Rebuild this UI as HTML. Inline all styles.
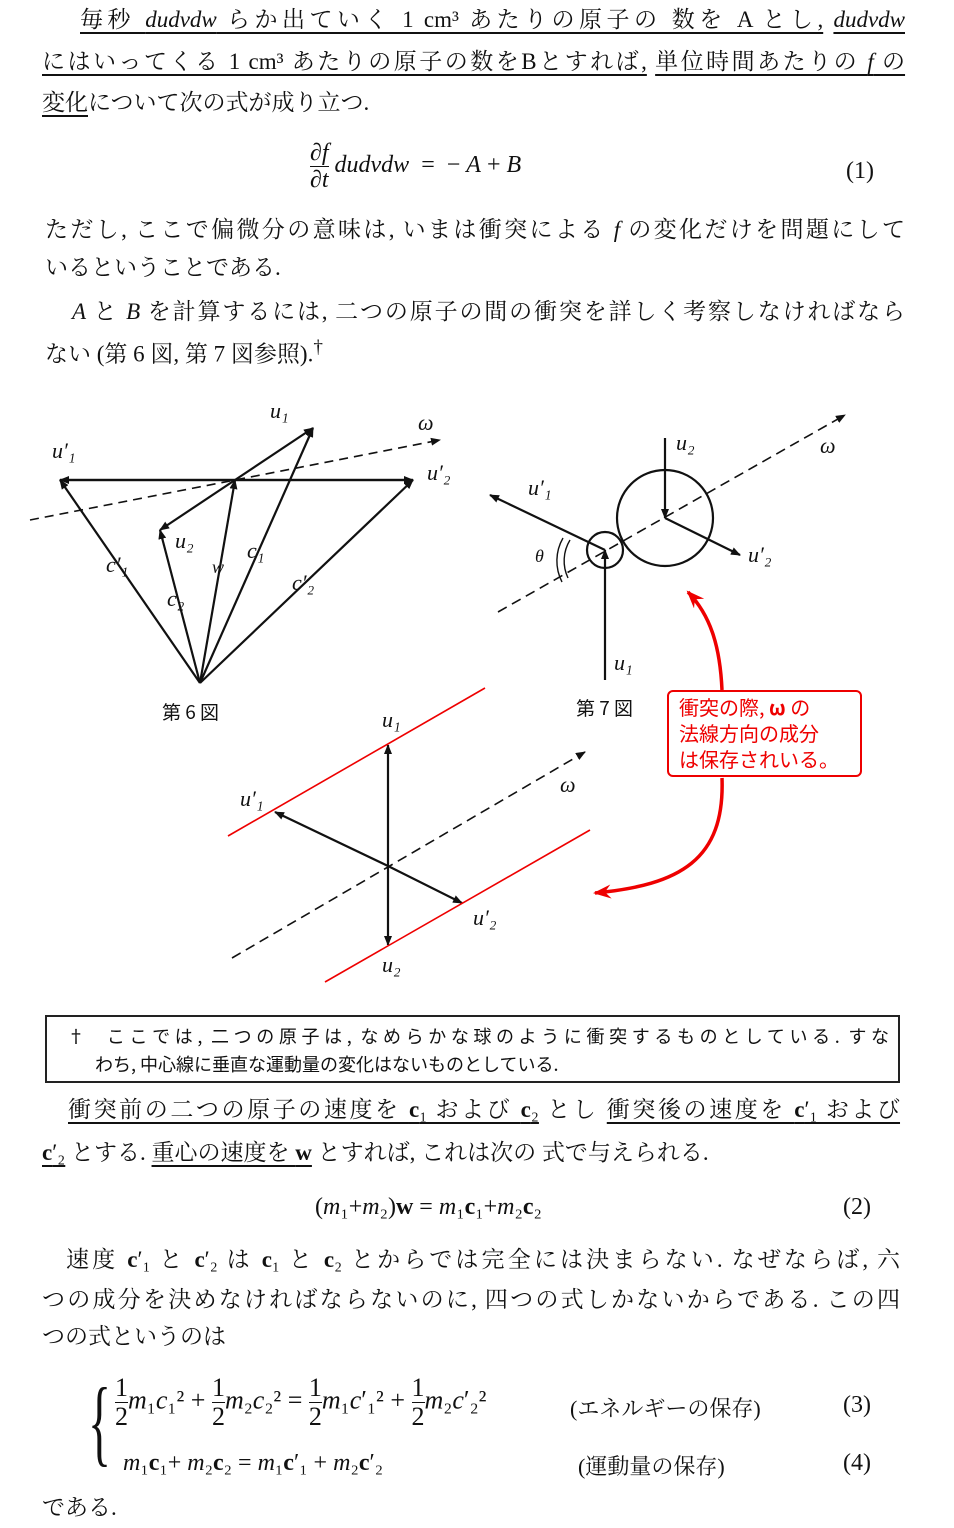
<!DOCTYPE html>
<html><head><meta charset="utf-8">
<style>
html,body{margin:0;padding:0;background:#fff;}
body{width:954px;height:1528px;position:relative;overflow:hidden;font-family:"Liberation Serif","Noto Serif CJK SC","Noto Sans CJK JP",serif;color:#111;}
.l{position:absolute;font-size:23px;white-space:nowrap;text-align:justify;text-align-last:justify;line-height:30px;}
.i{font-style:italic;}
.u{text-decoration:underline;text-underline-offset:5px;}
.eq{position:absolute;font-size:24px;white-space:nowrap;}
svg{position:absolute;left:0;top:0;}
.box{position:absolute;left:45px;top:1015px;width:851px;height:64px;border:2px solid #222;font-size:18px;font-family:"Noto Sans CJK JP",sans-serif;}
.fr{display:inline-block;text-align:center;vertical-align:middle;line-height:28px;font-size:26px;}
</style></head><body>

<div class="l" style="left:80px;top:5px;width:825px"><span class="u">毎秒 <span class="i">dudvdw</span> らか出ていく 1 cm³ あたりの原子の 数を A とし,</span> <span class="i u">dudvdw</span></div>
<div class="l" style="left:42px;top:47px;width:863px"><span class="u">にはいってくる 1 cm³ あたりの原子の数をBとすれば,</span> <span class="u">単位時間あたりの <i>f</i> の</span></div>
<div class="l" style="left:42px;top:88px;"><span class="u">変化</span>について次の式が成り立つ.</div>

<div class="eq" style="left:310px;top:140px;"><span style="display:inline-block;text-align:center;vertical-align:middle;line-height:26px"><i>∂f</i><br><span style="border-top:1.5px solid #111;display:block"><i>∂t</i></span></span> <i>dudvdw</i> &nbsp;= &nbsp;− <i>A</i> + <i>B</i></div>
<div class="eq" style="left:846px;top:158px;">(1)</div>

<div class="l" style="left:45px;top:215px;width:860px">ただし, ここで偏微分の意味は, いまは衝突による <i>f</i> の変化だけを問題にして</div>
<div class="l" style="left:45px;top:253px;">いるということである.</div>
<div class="l" style="left:72px;top:297px;width:833px"><i>A</i> と <i>B</i> を計算するには, 二つの原子の間の衝突を詳しく考察しなければなら</div>
<div class="l" style="left:45px;top:333px;">ない (第 6 図, 第 7 図参照).<sup>†</sup></div>

<svg width="954" height="1528" viewBox="0 0 954 1528">
<defs>
<marker id="a" markerWidth="10" markerHeight="8" refX="9" refY="4" orient="auto" markerUnits="userSpaceOnUse"><path d="M0,0 L10,4 L0,8 z" fill="#111"/></marker>
<marker id="ar" markerWidth="20" markerHeight="14" refX="16" refY="7" orient="auto" markerUnits="userSpaceOnUse"><path d="M0,0 L18,7 L0,14 L6,7 z" fill="#e00"/></marker>
</defs>
<g stroke="#111" stroke-width="2.2" fill="none">
<line x1="60" y1="480" x2="413" y2="480"/>
<line x1="30" y1="520" x2="440" y2="440" stroke-dasharray="9,6" stroke-width="1.6" marker-end="url(#a)"/>
<line x1="235" y1="480" x2="313" y2="428" marker-end="url(#a)"/>
<line x1="235" y1="480" x2="60" y2="480" marker-end="url(#a)"/>
<line x1="235" y1="480" x2="413" y2="480" marker-end="url(#a)"/>
<line x1="235" y1="480" x2="160" y2="530" marker-end="url(#a)"/>
<line x1="200" y1="683" x2="60" y2="480" marker-end="url(#a)"/>
<line x1="200" y1="683" x2="160" y2="530" marker-end="url(#a)"/>
<line x1="200" y1="683" x2="235" y2="480" marker-end="url(#a)"/>
<line x1="200" y1="683" x2="313" y2="428" marker-end="url(#a)"/>
<line x1="200" y1="683" x2="413" y2="480" marker-end="url(#a)"/>
<circle cx="665" cy="518" r="48"/>
<circle cx="605" cy="550" r="18"/>
<line x1="498" y1="612" x2="845" y2="415" stroke-dasharray="10,6" stroke-width="1.6" marker-end="url(#a)"/>
<line x1="665" y1="438" x2="665" y2="518" marker-end="url(#a)"/>
<line x1="605" y1="680" x2="605" y2="550" marker-end="url(#a)"/>
<line x1="605" y1="550" x2="490" y2="495" marker-end="url(#a)"/>
<line x1="665" y1="518" x2="740" y2="555" marker-end="url(#a)"/>
<path d="M570,540 A40,40 0 0,0 568,578" stroke-width="1.4"/>
<path d="M563,538 A46,46 0 0,0 562,582" stroke-width="1.4"/>
<line x1="232" y1="958" x2="585" y2="752" stroke-dasharray="10,6" stroke-width="1.6" marker-end="url(#a)"/>
<line x1="388" y1="866" x2="388" y2="745" marker-end="url(#a)"/>
<line x1="388" y1="866" x2="388" y2="945" marker-end="url(#a)"/>
<line x1="388" y1="866" x2="275" y2="812" marker-end="url(#a)"/>
<line x1="388" y1="866" x2="462" y2="903" marker-end="url(#a)"/>
</g>
<g stroke="#e00" stroke-width="1.6" fill="none">
<line x1="228" y1="836" x2="485" y2="688"/>
<line x1="325" y1="982" x2="590" y2="830"/>
<path d="M722,690 C720,645 710,615 688,592" stroke-width="3.5" marker-end="url(#ar)"/>
<path d="M722,778 C725,860 680,885 595,893" stroke-width="3.5" marker-end="url(#ar)"/>
</g>
<g font-family="Liberation Serif" font-style="italic" font-size="22" fill="#111">
<text x="270" y="418">u₁</text><text x="418" y="430">ω</text><text x="52" y="458">u′₁</text><text x="427" y="480">u′₂</text>
<text x="175" y="548">u₂</text><text x="247" y="558">c₁</text><text x="106" y="572">c′₁</text><text x="212" y="573" font-size="18">w</text>
<text x="167" y="606">c₂</text><text x="292" y="590">c′₂</text>
<text x="676" y="450">u₂</text><text x="820" y="453">ω</text><text x="528" y="495">u′₁</text><text x="748" y="562">u′₂</text><text x="535" y="562" font-size="18">θ</text><text x="614" y="670">u₁</text>
<text x="382" y="727">u₁</text><text x="560" y="792">ω</text><text x="240" y="806">u′₁</text><text x="473" y="925">u′₂</text><text x="382" y="972">u₂</text>
</g>
<g font-family="Noto Sans CJK JP" font-size="19" fill="#111">
<text x="162" y="719">第 6 図</text><text x="576" y="715">第 7 図</text>
</g>
</svg>

<div style="position:absolute;left:667px;top:690px;width:195px;height:87px;border:2px solid #e00;border-radius:6px;color:#e00;font-family:'Noto Sans CJK JP',sans-serif;font-size:20px;line-height:26px;padding:2px 0 0 10px;box-sizing:border-box;background:#fff;">衝突の際, <b>ω</b> の<br>法線方向の成分<br>は保存されいる。</div>

<div class="box"><div style="position:absolute;left:20px;top:6px;width:822px;text-align:justify;text-align-last:justify;white-space:nowrap">† &nbsp;ここでは, 二つの原子は, なめらかな球のように衝突するものとしている. すな</div><div style="position:absolute;left:48px;top:34px;white-space:nowrap">わち, 中心線に垂直な運動量の変化はないものとしている.</div></div>

<div class="l" style="left:68px;top:1095px;width:832px"><span class="u">衝突前の二つの原子の速度を <b>c</b>₁ および <b>c</b>₂</span> とし <span class="u">衝突後の速度を <b>c</b>′₁ および</span></div>
<div class="l" style="left:42px;top:1138px;"><span class="u"><b>c</b>′₂</span> とする. <span class="u">重心の速度を <b>w</b></span> とすれば, これは次の 式で与えられる.</div>
<div class="eq" style="left:315px;top:1194px;">(<i>m</i>₁+<i>m</i>₂)<b>w</b> = <i>m</i>₁<b>c</b>₁+<i>m</i>₂<b>c</b>₂</div>
<div class="eq" style="left:843px;top:1194px;">(2)</div>
<div class="l" style="left:66px;top:1245px;width:834px">速度 <b>c</b>′₁ と <b>c</b>′₂ は <b>c</b>₁ と <b>c</b>₂ とからでは完全には決まらない. なぜならば, 六</div>
<div class="l" style="left:42px;top:1285px;width:858px">つの成分を決めなければならないのに, 四つの式しかないからである. この四</div>
<div class="l" style="left:42px;top:1322px;">つの式というのは</div>

<div style="position:absolute;left:88px;top:1372px;font-size:96px;line-height:100px;font-weight:100;transform:scaleX(0.5);transform-origin:left">{</div>
<div class="eq" style="left:115px;top:1374px;font-size:26px"><span class="fr">1<br><span style="border-top:1.5px solid #111;display:block">2</span></span><i>m</i>₁<i>c</i>₁² + <span class="fr">1<br><span style="border-top:1.5px solid #111;display:block">2</span></span><i>m</i>₂<i>c</i>₂² = <span class="fr">1<br><span style="border-top:1.5px solid #111;display:block">2</span></span><i>m</i>₁<i>c</i>′₁² + <span class="fr">1<br><span style="border-top:1.5px solid #111;display:block">2</span></span><i>m</i>₂<i>c</i>′₂²</div>
<div class="eq" style="left:570px;top:1392px;font-size:22px">(エネルギーの保存)</div>
<div class="eq" style="left:843px;top:1392px;">(3)</div>
<div class="eq" style="left:123px;top:1450px;"><i>m</i>₁<b>c</b>₁+ <i>m</i>₂<b>c</b>₂ = <i>m</i>₁<b>c</b>′₁ + <i>m</i>₂<b>c</b>′₂</div>
<div class="eq" style="left:578px;top:1450px;font-size:22px">(運動量の保存)</div>
<div class="eq" style="left:843px;top:1450px;">(4)</div>
<div class="l" style="left:42px;top:1493px;">である.</div>
</body></html>
